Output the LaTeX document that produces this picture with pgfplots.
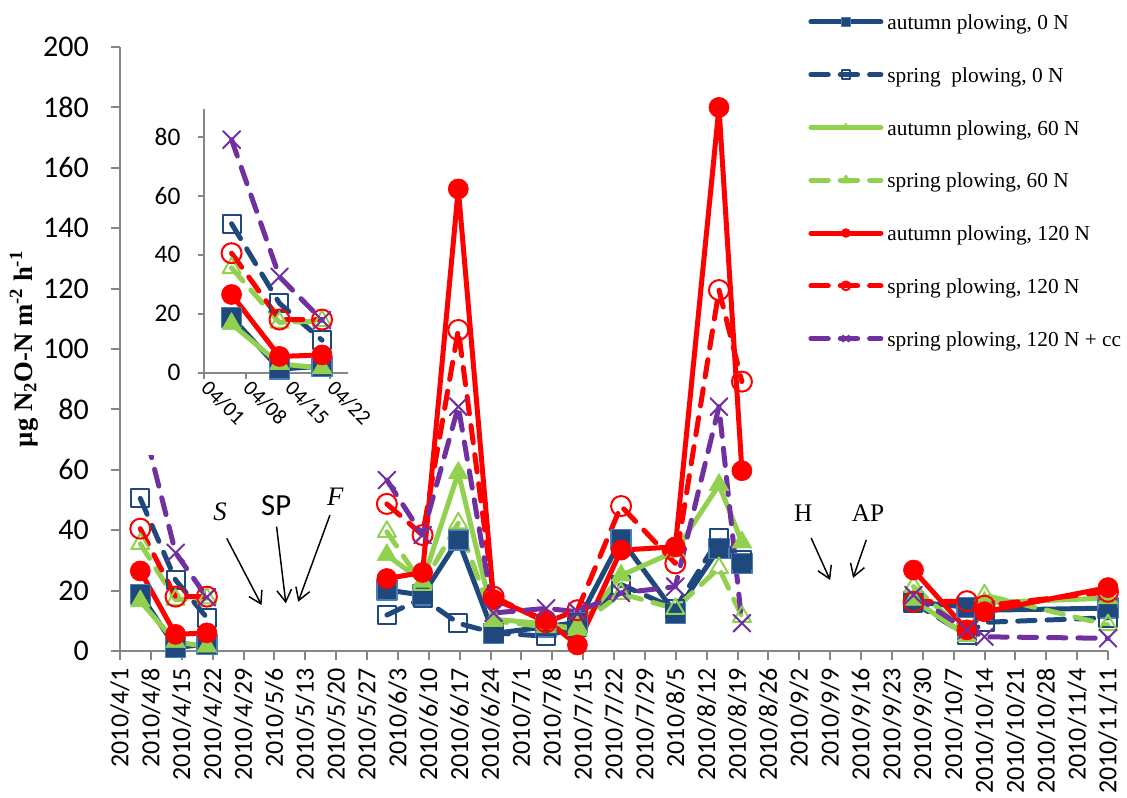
\documentclass[border=0pt]{standalone}
\usepackage{pgfplots}
\pgfplotsset{compat=1.18}
\usepackage{pgfplotstable}
\usepackage{fontspec}
\setmainfont{Liberation Serif}
\newfontfamily\carlito{Carlito}
\usetikzlibrary{arrows.meta}

\definecolor{nblue}{RGB}{31,73,125}
\definecolor{nblueedge}{RGB}{74,126,187}
\definecolor{ngreen}{RGB}{146,208,80}
\definecolor{nred}{RGB}{255,0,0}
\definecolor{npurple}{RGB}{112,48,160}
\definecolor{axisgray}{RGB}{134,134,134}

% N2O-N flux (ug m-2 h-1); day = days after 2010/4/1; nan rows break the lines
\pgfplotstableread{
day   a0   s0   a60  s60  a120 s120  cc
4.6   18.8 50.5 16.5 35.5 26.5 40.5  79
12.6  1.2  23.5 3    17   5.5  18    32.5
19.7  2.2  11   1.5  17.5 6    18    17.8
40    nan  nan  nan  nan  nan  nan   nan
60.5  20.2 11.9 31.8 39.5 24   48.7  56.6
68.6  18.5 17.5 23   22   26   38.4  38.4
76.7  36.8 9.2  59   42.3 153  106.3 80.9
84.7  5.8  6    10.5 10   17   18    12.6
96.6  8    4.9  9    8    10.3 9.5   14.1
103.7 9.5  8    7    8    2    13.5  13
113.6 37   22   25   19   33.4 48    19.2
125.9 12.5 14   33   14   34.5 29    21.3
135.8 34   37.3 55   27.5 180  119.5 80.9
141.0 29   30   36   11.4 59.7 89.2  9.2
160   nan  nan  nan  nan  nan  nan   nan
179.9 16.3 16   17   21.3 26.8 16.3  18.5
192   14.5 5.3  5    6    7    16.5  7
196   13.5 9.5  16   18.5 13   15    4.7
224   14.2 11   17.5 8.6  21   19.6  4.2
}\fluxdata

\pgfplotsset{
  base ser/.style={line width=3.75pt, line cap=round, line join=round},
  dash ser/.style={base ser, dash pattern=on 13pt off 9pt},
  ser a0/.style={base ser, nblue, mark=square*, mark size=7.5pt,
    mark options={solid, fill=nblue, draw=nblueedge, line width=1pt}},
  ser s0/.style={dash ser, nblue, mark=square, mark size=6.75pt,
    mark options={solid, line width=1.5pt}},
  ser a60/.style={base ser, ngreen, mark=triangle*, mark size=8.5pt,
    mark options={solid, fill=ngreen, line width=0.5pt}},
  ser s60/.style={dash ser, ngreen, mark=triangle, mark size=7.8pt,
    mark options={solid, line width=1.5pt}},
  ser a120/.style={base ser, nred, mark=*, mark size=7.5pt,
    mark options={solid, line width=0.5pt}},
  ser s120/.style={dash ser, nred, mark=o, mark size=7.5pt,
    mark options={solid, line width=1.5pt}},
  ser cc/.style={dash ser, npurple, mark=x, mark size=9pt,
    mark options={solid, line width=1.5pt}},
  gray axes/.style={
    axis x line=bottom, axis y line=left,
    axis line style={axisgray, line width=1.5pt, -},
    tick style={axisgray, line width=1.5pt},
    tick align=outside,
    unbounded coords=jump,
    /pgf/number format/assume math mode=true,
  },
}

\begin{document}
\begin{tikzpicture}
\useasboundingbox (0,0) rectangle (845.25pt,598.5pt);

\begin{axis}[
  gray axes, clip=false,
  at={(90pt,110.25pt)}, anchor=south west,
  scale only axis, width=741pt, height=453pt,
  xmin=0, xmax=224, ymin=0, ymax=200,
  major tick length=6.75pt,
  xtick={0,7,...,224},
  xticklabels={2010/4/1,2010/4/8,2010/4/15,2010/4/22,2010/4/29,2010/5/6,2010/5/13,2010/5/20,2010/5/27,2010/6/3,2010/6/10,2010/6/17,2010/6/24,2010/7/1,2010/7/8,2010/7/15,2010/7/22,2010/7/29,2010/8/5,2010/8/12,2010/8/19,2010/8/26,2010/9/2,2010/9/9,2010/9/16,2010/9/23,2010/9/30,2010/10/7,2010/10/14,2010/10/21,2010/10/28,2010/11/4,2010/11/11},
  xticklabel style={yshift=-6pt, rotate=90, anchor=east, inner sep=0pt,
    font=\carlito\fontsize{19.5}{20}\selectfont},
  ytick={0,20,...,200},
  yticklabel style={xshift=-16.5pt, anchor=east, inner sep=0pt,
    font=\carlito\fontsize{22.5}{24}\selectfont},
  ylabel={µg N\textsubscript{2}O-N m\textsuperscript{-2} h\textsuperscript{-1}},
  ylabel style={at={(axis description cs:-0.0972,0.5)}, anchor=center,
    font=\bfseries\fontsize{20}{24}\selectfont},
  legend cell align=left,
  legend image code/.code={
    \draw[mark repeat=2, mark phase=2, #1, mark size=3.3pt]
      plot coordinates {(0pt,2.25pt) (26.25pt,2.25pt) (52.5pt,2.25pt)};
  },
  legend style={at={(axis description cs:0.6965,1.0548)}, anchor=north west,
    draw=none, fill=none, inner sep=0pt, row sep=23.6pt, column sep=3pt,
    font=\fontsize{16}{18}\selectfont,
    nodes={inner sep=0pt, text height=11.5pt, text depth=4.5pt}},
]
\addplot[ser a0]   table[x=day, y=a0]   {\fluxdata};
\addlegendentry{autumn plowing, 0 N}
\addplot[ser s0]   table[x=day, y=s0]   {\fluxdata};
\addlegendentry{spring\ \ plowing, 0 N}
\addplot[ser a60]  table[x=day, y=a60]  {\fluxdata};
\addlegendentry{autumn plowing, 60 N}
\addplot[ser s60]  table[x=day, y=s60]  {\fluxdata};
\addlegendentry{spring plowing, 60 N}
\addplot[ser a120] table[x=day, y=a120] {\fluxdata};
\addlegendentry{autumn plowing, 120 N}
\addplot[ser s120] table[x=day, y=s120] {\fluxdata};
\addlegendentry{spring plowing, 120 N}
\addplot[ser cc]   table[x=day, y=cc]   {\fluxdata};
\addlegendentry{spring plowing, 120 N + cc}

% field operations: sowing, spring plowing, fertilization, harvest, autumn plowing
\tikzset{op arrow/.style={line width=1.1pt, -{Straight Barb[length=9pt,width=11pt]}}}
\node[font=\itshape\fontsize{20}{24}\selectfont] at (axis cs:22.7,46) {S};
\draw[op arrow] (axis cs:24.2,37.3) -- (axis cs:32.1,15.2);
\node[font=\carlito\fontsize{23}{24}\selectfont] at (axis cs:35.4,48) {SP};
\draw[op arrow] (axis cs:35.5,41.2) -- (axis cs:37.6,15.8);
\node[font=\itshape\fontsize{20}{24}\selectfont] at (axis cs:48.8,51) {F};
\draw[op arrow] (axis cs:47.6,45) -- (axis cs:40.4,16.3);
\node[font=\fontsize{19}{24}\selectfont] at (axis cs:154.9,45.7) {H};
\draw[op arrow] (axis cs:156.7,37.4) -- (axis cs:161,23.5);
\node[font=\fontsize{19}{24}\selectfont] at (axis cs:169.6,45.7) {AP};
\draw[op arrow] (axis cs:169.2,36.8) -- (axis cs:166.2,24.2);
\end{axis}

% blank panel behind the April close-up
\fill[white] (93.75pt,257.25pt) rectangle (273.75pt,527.25pt);

\begin{axis}[
  gray axes, clip=true,
  at={(153pt,319pt)}, anchor=south west,
  scale only axis, width=107.85pt, height=198pt,
  xmin=0, xmax=24, ymin=0, ymax=89.5,
  restrict x to domain=0:30,
  major tick length=4.5pt,
  xtick={0,7,14,21},
  xticklabels={04/01,04/08,04/15,04/22},
  xticklabel style={xshift=5pt, rotate=-45, anchor=north west, inner sep=0pt,
    font=\carlito\fontsize{16}{18}\selectfont},
  ytick={0,20,...,80},
  yticklabel style={xshift=-13pt, anchor=east, inner sep=0pt,
    font=\carlito\fontsize{19}{20}\selectfont},
]
\addplot[ser a0]   table[x=day, y=a0]   {\fluxdata};
\addplot[ser s0]   table[x=day, y=s0]   {\fluxdata};
\addplot[ser a60]  table[x=day, y=a60]  {\fluxdata};
\addplot[ser s60]  table[x=day, y=s60]  {\fluxdata};
\addplot[ser a120] table[x=day, y=a120] {\fluxdata};
\addplot[ser s120] table[x=day, y=s120] {\fluxdata};
\addplot[ser cc]   table[x=day, y=cc]   {\fluxdata};
\end{axis}
\end{tikzpicture}
\end{document}
